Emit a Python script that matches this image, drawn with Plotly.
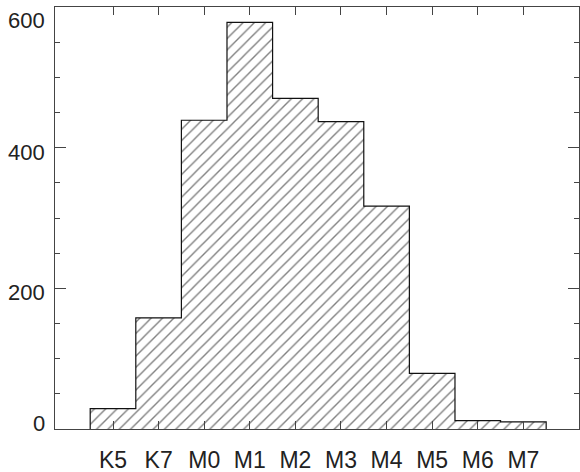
import plotly.graph_objects as go

# Spectral-type histogram
categories = ["K5", "K7", "M0", "M1", "M2", "M3", "M4", "M5", "M6", "M7"]
counts = [29, 158, 439, 578, 470, 437, 317, 79, 12, 10]
y_tick_values = [0, 200, 400, 600]
y_tick_labels = ["0", "200", "400", "600"]

idx = list(range(len(categories)))
axis_col = "#444444"
font_family = "Liberation Sans, Arial, Helvetica, sans-serif"

fig = go.Figure()

# hatched fill for every bin
fig.add_trace(go.Bar(
    x=idx, y=counts, width=1.0,
    marker=dict(
        color="white",
        line=dict(width=0),
        pattern=dict(shape="/", size=8, solidity=0.17,
                     fgcolor="black", bgcolor="white", fillmode="overlay"),
    ),
    hoverinfo="skip", showlegend=False,
))

# stepped outline around the histogram
step_x = [idx[0] - 0.5] + [i - 0.5 for i in idx] + [idx[-1] + 0.5]
step_y = [0] + counts + [0]
fig.add_trace(go.Scatter(
    x=step_x, y=step_y, mode="lines",
    line=dict(shape="hv", color="#111111", width=1.2),
    hoverinfo="skip", showlegend=False,
))

# y tick labels placed in the classic plotting style
label_shift = {0: 6, 200: -4, 400: -5, 600: -13}
for v, t in zip(y_tick_values, y_tick_labels):
    fig.add_annotation(
        x=0, xref="paper", y=v, yref="y", text=t, showarrow=False,
        xanchor="right", yanchor="middle", xshift=-8, yshift=label_shift[v],
        font=dict(family=font_family, size=22, color="#222222"),
    )

fig.update_layout(
    width=580, height=472,
    margin=dict(l=55, r=1, t=7, b=43, autoexpand=False),
    paper_bgcolor="white", plot_bgcolor="white",
    bargap=0,
    xaxis=dict(
        range=[-1.272, 10.22],
        tickvals=idx, ticktext=categories,
        ticks="inside", ticklen=8, tickcolor=axis_col, tickwidth=1,
        showline=True, linecolor=axis_col, linewidth=1, mirror="allticks",
        showgrid=False, zeroline=False, automargin=False,
        tickfont=dict(family=font_family, size=23, color="#222222"),
        ticklabelstandoff=10,
    ),
    yaxis=dict(
        range=[0, 600],
        tickvals=[0, 200, 400, 600],
        showticklabels=False,
        ticks="inside", ticklen=11, tickcolor=axis_col, tickwidth=1,
        minor=dict(dtick=50, ticks="inside", ticklen=5, tickcolor=axis_col, showgrid=False),
        showline=True, linecolor=axis_col, linewidth=1, mirror="allticks",
        showgrid=False, zeroline=False, automargin=False,
    ),
)

fig.write_html("out.html")
